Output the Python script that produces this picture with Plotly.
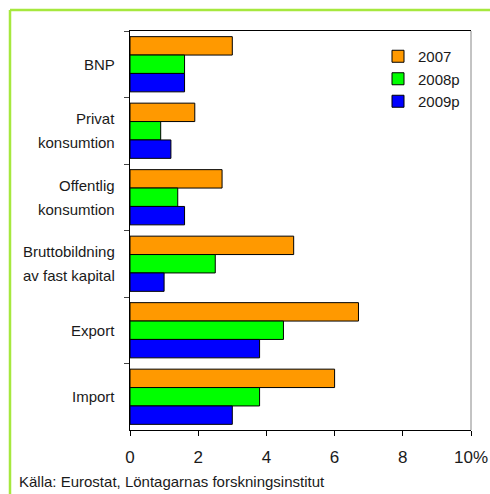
import plotly.graph_objects as go

categories = ["BNP", "Privat\nkonsumtion", "Offentlig\nkonsumtion",
              "Bruttobildning\nav fast kapital", "Export", "Import"]
series_names = ["2007", "2008p", "2009p"]
values_2007 = [3.0, 1.9, 2.7, 4.8, 6.7, 6.0]
values_2008p = [1.6, 0.9, 1.4, 2.5, 4.5, 3.8]
values_2009p = [1.6, 1.2, 1.6, 1.0, 3.8, 3.0]
tick_vals = [0, 2, 4, 6, 8, 10]
tick_text = ["0", "2", "4", "6", "8", "10%"]
source_text = "Källa: Eurostat, Löntagarnas forskningsinstitut"

colors = ["#ff9900", "#00ff00", "#0000ff"]
FONT = "Liberation Sans, Arial, sans-serif"
TXT = "#1a1a1a"

W, H = 490, 494
ML, MR, MT, MB = 130, 19, 31, 64
PW, PH = W - ML - MR, H - MT - MB

def px_x(p):
    return (p - ML) / PW

def px_y(p):
    return (H - MB - p) / PH

fig = go.Figure()
for name, vals, col in zip(series_names, [values_2007, values_2008p, values_2009p], colors):
    fig.add_trace(go.Bar(
        name=name, y=categories, x=vals, orientation="h",
        marker=dict(color=col, line=dict(color="black", width=1)),
    ))

annotations = []
for cat in categories:
    lines = cat.split("\n")
    n = len(lines)
    for i, ln in enumerate(lines):
        shift = (n - 1) * 12 - i * 24
        annotations.append(dict(
            text=ln, x=0, xref="paper", y=cat, yref="y", xanchor="right",
            yanchor="middle", xshift=-13, yshift=shift, showarrow=False,
            font=dict(family=FONT, size=15, color=TXT),
        ))
annotations.append(dict(
    text=source_text, x=px_x(17), xref="paper", y=px_y(481), yref="paper",
    xanchor="left", yanchor="middle", showarrow=False,
    font=dict(family=FONT, size=15, color=TXT),
))

shapes = [
    dict(type="line", xref="paper", yref="paper", x0=px_x(10), x1=px_x(W + 5),
         y0=px_y(10), y1=px_y(10), line=dict(color="#a6e83e", width=2.5)),
    dict(type="line", xref="paper", yref="paper", x0=px_x(10), x1=px_x(10),
         y0=px_y(10), y1=px_y(H + 5), line=dict(color="#a6e83e", width=2.5)),
    dict(type="line", xref="paper", yref="paper", x0=1, x1=1, y0=0, y1=1,
         line=dict(color="#888888", width=1)),
]

fig.update_layout(
    width=W, height=H, autosize=False,
    margin=dict(l=ML, r=MR, t=MT, b=MB, autoexpand=False),
    paper_bgcolor="white", plot_bgcolor="white",
    barmode="group", bargap=0.17, bargroupgap=0,
    font=dict(family=FONT, size=15, color=TXT),
    showlegend=True,
    legend=dict(x=px_x(378), y=px_y(40), xanchor="left", yanchor="top",
                traceorder="normal", font=dict(family=FONT, size=15, color=TXT),
                bgcolor="rgba(0,0,0,0)", itemwidth=30, tracegroupgap=0),
    annotations=annotations,
    shapes=shapes,
    xaxis=dict(range=[0, 10], tickvals=tick_vals, ticktext=tick_text,
               automargin=False,
               showgrid=False, zeroline=False, showline=True, linecolor="black",
               linewidth=1, mirror=True, ticks="outside", ticklen=5,
               tickcolor="black", ticklabelstandoff=7,
               tickfont=dict(family=FONT, size=17, color=TXT)),
    yaxis=dict(autorange="reversed", showticklabels=False, showgrid=False,
               automargin=False,
               showline=True, linecolor="black", linewidth=1,
               ticks="outside", tickson="boundaries", ticklen=5,
               tickcolor="#444444"),
)

fig.write_html("out.html", config={"displayModeBar": False},
               post_script="document.body.style.margin='0';")
